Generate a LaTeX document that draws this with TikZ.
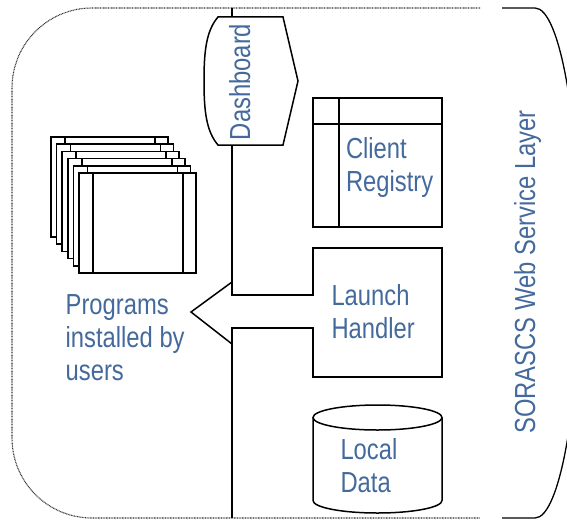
\documentclass[tikz,border=0pt]{standalone}
\usepackage{fontspec}
\setmainfont{Liberation Sans}[FakeStretch=0.82]
\definecolor{txtblue}{HTML}{44699C}
\begin{document}
\begin{tikzpicture}[x=1pt,y=-1pt,
  shapeline/.style={draw=black, line width=1.5pt, line join=miter},
  lbl/.style={text=txtblue, font=\fontsize{29}{33}\selectfont, inner sep=0pt},
  border/.style={draw=black!80, line width=1.1pt, dash pattern=on 0.9pt off 0.7pt},
  bordersolid/.style={draw=black, line width=1.3pt}]
\useasboundingbox (0,0) rectangle (567,519);
\clip (0,0) rectangle (567,519);
% outer layer boundary
\draw[border] (480,8) -- (92,8) arc[start angle=270, end angle=180, radius=80] -- (12,438)
  arc[start angle=180, end angle=90, radius=80] -- (480,518);
\draw[bordersolid] (502,8) -- (535,8) arc[start angle=270, end angle=450, x radius=45, y radius=255] -- (502,518);
% program windows stack
\foreach \i in {0,...,5}{
  \pgfmathsetmacro{\xo}{51+5.6*\i}
  \pgfmathsetmacro{\yo}{137+7.2*\i}
  \filldraw[shapeline, fill=white] (\xo,\yo) rectangle ++(117,100);
  \draw[shapeline] (\xo+14,\yo) -- ++(0,100);
  \draw[shapeline] (\xo+104,\yo) -- ++(0,100);
}
% main bus with dashboard, launch handler and arrow
\coordinate (top) at (232,8);
\coordinate (dtop) at (232,17);
\coordinate (dbot) at (232,145);
\coordinate (bot) at (232,518);
\draw[shapeline] (top) -- (dtop);
\filldraw[shapeline, fill=white] (218,17) -- (283,17) -- (298,81) -- (283,145) -- (218,145)
  .. controls (206,131) and (204,110) .. (204,81) .. controls (204,52) and (206,31) .. (218,17) -- cycle;
\draw[shapeline] (dbot) -- (232,295) -- (313,295) -- (313,248) -- (442,248) -- (442,377)
  -- (313,377) -- (313,328) -- (232,328) -- (bot);
\draw[shapeline] (232,282) -- (191,312) -- (232,344);
% client registry
\draw[shapeline] (313,98) rectangle (442,227);
\draw[shapeline] (313,124) -- (442,124);
\draw[shapeline] (339,98) -- (339,227);
% local data cylinder
\draw[shapeline] (377.5,417.5) ellipse[x radius=64.5, y radius=12.5];
\draw[shapeline] (313,417.5) -- (313,500.5) arc[start angle=180, end angle=0, x radius=64.5, y radius=12.5] -- (442,417.5);
% texts
\node[lbl, rotate=90, anchor=base] (dash) at (250,82) {Dashboard};
\node[lbl, rotate=90, anchor=base] (layer) at (535,272) {SORASCS Web Service Layer};
\node[lbl, anchor=base west] (prog) at (65.5,314) {\begin{tabular}[t]{@{}l@{}}Programs\\installed by\\users\end{tabular}};
\node[lbl, anchor=base west] (client) at (345.8,158) {\begin{tabular}[t]{@{}l@{}}Client\\Registry\end{tabular}};
\node[lbl, anchor=base west] (launch) at (331.3,305.5) {\begin{tabular}[t]{@{}l@{}}Launch\\Handler\end{tabular}};
\node[lbl, anchor=base west] (local) at (340.3,459) {\begin{tabular}[t]{@{}l@{}}Local\\Data\end{tabular}};
\end{tikzpicture}
\end{document}
